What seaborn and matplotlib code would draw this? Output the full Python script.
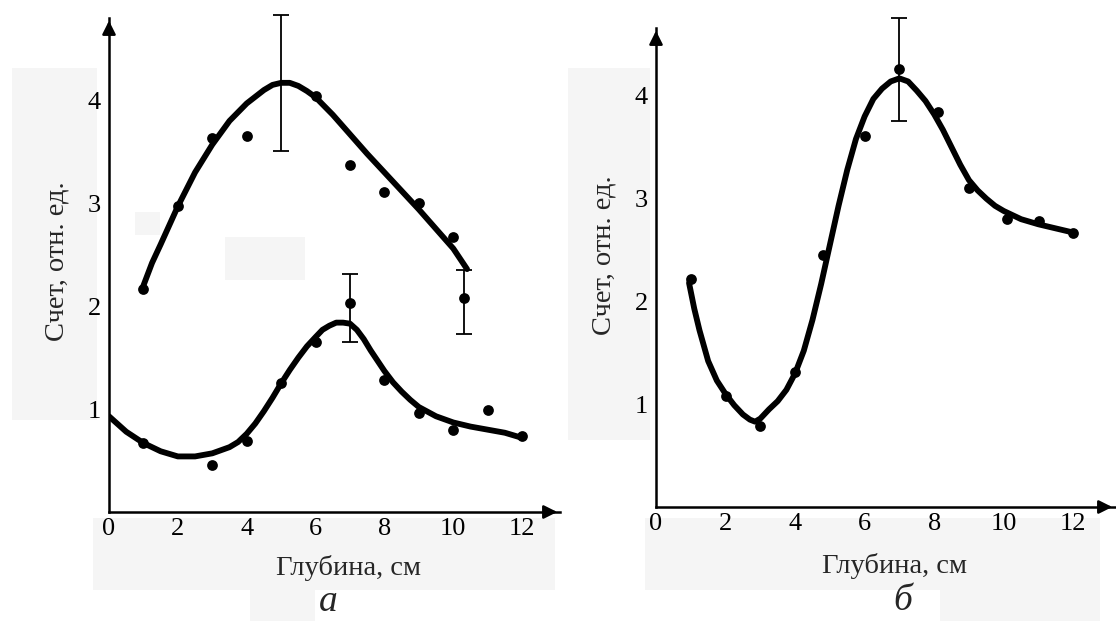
import matplotlib
matplotlib.use("Agg")
import matplotlib.pyplot as plt
import seaborn as sns
from matplotlib.patches import Rectangle

sns.set_theme(style="white")
plt.rcParams["font.family"] = ["Liberation Serif", "DejaVu Serif"]

# ---- panel а : upper profile ----
a_top_curve_x = [1.0, 1.25, 1.5, 2.0, 2.5, 3.0, 3.5, 4.0, 4.5, 4.75, 5.0, 5.25, 5.5, 5.75,
                 6.0, 6.5, 7.0, 7.5, 8.0, 8.5, 9.0, 9.5, 10.0, 10.4]
a_top_curve_y = [2.20, 2.42, 2.60, 2.97, 3.30, 3.57, 3.80, 3.97, 4.10, 4.15, 4.17, 4.17,
                 4.14, 4.09, 4.03, 3.86, 3.67, 3.48, 3.30, 3.12, 2.94, 2.75, 2.56, 2.36]
a_top_pts_x = [1, 2, 3, 4, 6, 7, 8, 9, 10, 10.3]
a_top_pts_y = [2.17, 2.97, 3.63, 3.65, 4.04, 3.37, 3.11, 3.00, 2.67, 2.08]
a_top_err_x = [5.0, 10.3]
a_top_err_y = [4.17, 2.04]
a_top_err = [0.66, 0.31]

# ---- panel а : lower profile ----
a_low_curve_x = [0.0, 0.5, 1.0, 1.5, 2.0, 2.5, 3.0, 3.5, 3.75, 4.0, 4.25, 4.5, 4.75, 5.0,
                 5.25, 5.5, 5.75, 6.0, 6.2, 6.4, 6.6, 6.8, 7.0, 7.2, 7.4, 7.6, 7.8, 8.0,
                 8.25, 8.5, 8.75, 9.0, 9.5, 10.0, 10.5, 11.0, 11.5, 12.0]
a_low_curve_y = [0.93, 0.78, 0.67, 0.59, 0.54, 0.54, 0.57, 0.63, 0.68, 0.76, 0.86, 0.98,
                 1.11, 1.25, 1.38, 1.50, 1.61, 1.70, 1.77, 1.81, 1.84, 1.84, 1.83, 1.77,
                 1.68, 1.57, 1.47, 1.37, 1.26, 1.17, 1.09, 1.02, 0.93, 0.87, 0.83, 0.80,
                 0.77, 0.72]
a_low_pts_x = [1, 3, 4, 5, 6, 7, 8, 9, 10, 11, 12]
a_low_pts_y = [0.67, 0.46, 0.69, 1.25, 1.65, 2.03, 1.28, 0.96, 0.80, 0.99, 0.74]
a_low_err_x = [7.0]
a_low_err_y = [1.98]
a_low_err = [0.33]

# ---- panel б ----
b_curve_x = [0.95, 1.1, 1.25, 1.5, 1.75, 2.0, 2.25, 2.5, 2.7, 2.85, 3.0, 3.25, 3.5, 3.75,
             4.0, 4.25, 4.5, 4.75, 5.0, 5.25, 5.5, 5.75, 6.0, 6.25, 6.5, 6.75, 7.0, 7.25,
             7.5, 7.75, 8.0, 8.25, 8.5, 8.75, 9.0, 9.25, 9.5, 9.75, 10.0, 10.5, 11.0,
             11.5, 12.0]
b_curve_y = [2.18, 1.93, 1.72, 1.42, 1.23, 1.10, 0.99, 0.90, 0.85, 0.83, 0.86, 0.95, 1.03,
             1.14, 1.30, 1.52, 1.82, 2.17, 2.55, 2.93, 3.28, 3.58, 3.80, 3.97, 4.07, 4.14,
             4.17, 4.14, 4.05, 3.95, 3.82, 3.67, 3.50, 3.33, 3.18, 3.08, 3.00, 2.93, 2.88,
             2.80, 2.75, 2.71, 2.67]
b_pts_x = [1, 2, 3, 4, 4.8, 6, 7, 8.1, 9, 10.1, 11, 12]
b_pts_y = [2.22, 1.08, 0.79, 1.31, 2.45, 3.61, 4.26, 3.84, 3.10, 2.80, 2.78, 2.67]
b_err_x = [7.0]
b_err_y = [4.26]
b_err = [0.50]

x_ticks = [0, 2, 4, 6, 8, 10, 12]
y_ticks = [1, 2, 3, 4]
x_label = "Глубина, см"
y_label = "Счет, отн. ед."
panel_letters = ["а", "б"]

W, H = 1116, 621
fig = plt.figure(figsize=(W / 100, H / 100), dpi=100)
fig.patch.set_facecolor("white")

# faint grey scan patches behind the labels
for (x0, y0, x1, y1) in [(12, 68, 97, 420), (93, 518, 555, 590), (250, 590, 315, 621),
                         (225, 237, 305, 280), (135, 212, 160, 235),
                         (568, 68, 650, 440), (645, 518, 1100, 590), (940, 590, 1100, 621)]:
    fig.patches.append(Rectangle((x0 / W, 1 - y1 / H), (x1 - x0) / W, (y1 - y0) / H,
                                 transform=fig.transFigure, facecolor="#f5f5f5",
                                 edgecolor="none", zorder=-5))


def make_axes(left, right, bottom, top, xmax, ymax):
    ax = fig.add_axes([left / W, 1 - bottom / H, (right - left) / W, (bottom - top) / H])
    ax.set_facecolor("none")
    ax.set_xlim(0, xmax)
    ax.set_ylim(0, ymax)
    for s in ("top", "right"):
        ax.spines[s].set_visible(False)
    for s in ("left", "bottom"):
        ax.spines[s].set_color("black")
        ax.spines[s].set_linewidth(1.8)
    ax.set_xticks(x_ticks)
    ax.set_yticks(y_ticks)
    ax.tick_params(axis="x", direction="in", length=6, width=1.6, colors="black",
                   labelsize=19, pad=4)
    ax.tick_params(axis="y", direction="inout", length=8, width=1.6, colors="black",
                   labelsize=19, pad=2)
    ax.grid(False)
    ax.annotate("", xy=(1.0, 0), xytext=(0.96, 0), xycoords="axes fraction",
                arrowprops=dict(arrowstyle="-|>", color="black", lw=1.8, mutation_scale=20))
    ax.annotate("", xy=(0, 1.0), xytext=(0, 0.96), xycoords="axes fraction",
                arrowprops=dict(arrowstyle="-|>", color="black", lw=1.8, mutation_scale=20))
    return ax


def draw_series(ax, cx, cy, px, py):
    sns.lineplot(x=cx, y=cy, ax=ax, color="black", lw=4.2, sort=False,
                 estimator=None, solid_capstyle="round", solid_joinstyle="round", zorder=3)
    sns.scatterplot(x=px, y=py, ax=ax, color="black", s=60, edgecolor="black",
                    linewidth=0, zorder=4, clip_on=False)


def draw_err(ax, ex, ey, ee):
    ax.errorbar(ex, ey, yerr=ee, fmt="none", ecolor="black", elinewidth=1.3,
                capsize=6, capthick=1.3, zorder=5, clip_on=False)


# panel а
ax1 = make_axes(109, 560, 512, 18, 13.1, 4.80)
draw_series(ax1, a_top_curve_x, a_top_curve_y, a_top_pts_x, a_top_pts_y)
draw_series(ax1, a_low_curve_x, a_low_curve_y, a_low_pts_x, a_low_pts_y)
draw_err(ax1, a_top_err_x, a_top_err_y, a_top_err)
draw_err(ax1, a_low_err_x, a_low_err_y, a_low_err)
ax1.set_xlabel(x_label, fontsize=20.5)
ax1.set_ylabel(y_label, fontsize=20.5)
ax1.xaxis.set_label_coords(0.53, -0.088)
ax1.yaxis.set_label_coords(-0.088, 0.508)

# panel б
ax2 = make_axes(656, 1115, 507, 28, 13.2, 4.66)
draw_series(ax2, b_curve_x, b_curve_y, b_pts_x, b_pts_y)
draw_err(ax2, b_err_x, b_err_y, b_err)
ax2.set_xlabel(x_label, fontsize=20.5)
ax2.set_ylabel(y_label, fontsize=20.5)
ax2.xaxis.set_label_coords(0.52, -0.095)
ax2.yaxis.set_label_coords(-0.085, 0.526)

fig.text(328 / W, 1 - 602 / H, panel_letters[0], fontsize=27, style="italic",
         ha="center", va="center")
fig.text(903 / W, 1 - 601 / H, panel_letters[1], fontsize=27, style="italic",
         ha="center", va="center")

fig.savefig("out.png", dpi=100, facecolor="white")
